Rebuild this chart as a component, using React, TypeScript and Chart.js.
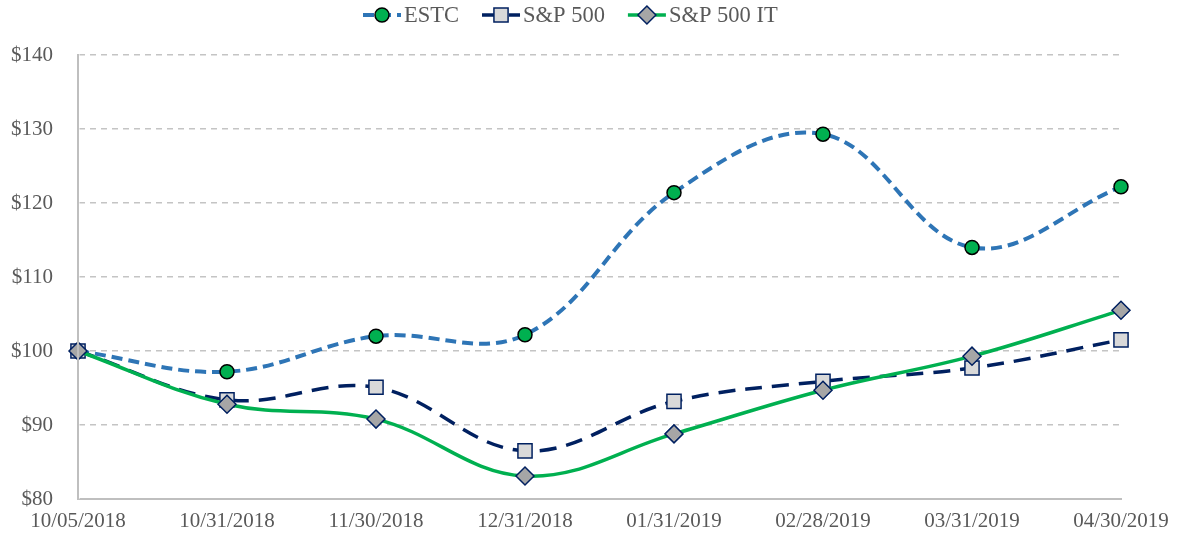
import React, { useEffect, useRef } from "react";
import { Chart, registerables } from "chart.js";

Chart.register(...registerables);

const categories = [
  "10/05/2018",
  "10/31/2018",
  "11/30/2018",
  "12/31/2018",
  "01/31/2019",
  "02/28/2019",
  "03/31/2019",
  "04/30/2019",
];
const estc = [100, 97.2, 102.0, 102.2, 121.4, 129.3, 114.0, 122.2];
const sp500 = [100, 93.4, 95.1, 86.5, 93.2, 95.9, 97.7, 101.5];
const sp500it = [100, 92.8, 90.8, 83.1, 88.8, 94.7, 99.3, 105.5];
const yTicks = [80, 90, 100, 110, 120, 130, 140];

const FONT = "'Liberation Serif', 'Times New Roman', serif";
const TEXT = "#595959";

type Marker = "circle" | "rect" | "rectRot";

function drawMarker(ctx: CanvasRenderingContext2D, kind: Marker, x: number, y: number, r: number, fill: string, stroke: string) {
  ctx.save();
  ctx.setLineDash([]);
  ctx.fillStyle = fill;
  ctx.strokeStyle = stroke;
  ctx.lineWidth = 1.5;
  ctx.beginPath();
  if (kind === "circle") {
    ctx.arc(x, y, r, 0, Math.PI * 2);
  } else if (kind === "rect") {
    const s = r * Math.SQRT1_2;
    ctx.rect(x - s, y - s, 2 * s, 2 * s);
  } else {
    ctx.moveTo(x, y - r);
    ctx.lineTo(x + r, y);
    ctx.lineTo(x, y + r);
    ctx.lineTo(x - r, y);
    ctx.closePath();
  }
  ctx.fill();
  ctx.stroke();
  ctx.restore();
}

const legendPlugin = {
  id: "customLegend",
  afterDraw(chart: any) {
    const ctx: CanvasRenderingContext2D = chart.ctx;
    const ds = chart.data.datasets;
    const order = [0, 1, 2];
    let x = 363;
    const y = 15;
    ctx.save();
    ctx.font = `22.5px ${FONT}`;
    ctx.textBaseline = "middle";
    ctx.textAlign = "left";
    for (const i of order) {
      const d = ds[i];
      const lineLen = 38;
      ctx.save();
      ctx.strokeStyle = d.borderColor;
      ctx.lineWidth = d.borderWidth;
      ctx.setLineDash(d.borderDash || []);
      ctx.beginPath();
      ctx.moveTo(x, y);
      ctx.lineTo(x + lineLen, y);
      ctx.stroke();
      ctx.restore();
      drawMarker(ctx, d.pointStyle, x + lineLen / 2, y, d.pointRadius, d.pointBackgroundColor, d.pointBorderColor);
      ctx.fillStyle = TEXT;
      const tx = x + lineLen + 3;
      ctx.fillText(d.label, tx, y + 1);
      x = tx + ctx.measureText(d.label).width + 23;
    }
    ctx.restore();
  },
};

export default function App() {
  const ref = useRef<HTMLCanvasElement | null>(null);
  useEffect(() => {
    if (!ref.current) return;
    const chart = new Chart(ref.current, {
      type: "line",
      data: {
        labels: categories,
        datasets: [
          {
            label: "ESTC",
            data: estc,
            borderColor: "#2E75B6",
            borderWidth: 4,
            borderDash: [11, 6],
            tension: 0.38,
            pointStyle: "circle",
            pointRadius: 7,
            pointBackgroundColor: "#00B050",
            pointBorderColor: "#000000",
            pointBorderWidth: 1.5,
            order: 3,
          },
          {
            label: "S&P 500",
            data: sp500,
            borderColor: "#002060",
            borderWidth: 3.5,
            borderDash: [17, 10],
            tension: 0.38,
            pointStyle: "rect",
            pointRadius: 10,
            pointBackgroundColor: "#D9D9D9",
            pointBorderColor: "#002060",
            pointBorderWidth: 1.5,
            order: 2,
          },
          {
            label: "S&P 500 IT",
            data: sp500it,
            borderColor: "#00B050",
            borderWidth: 3.5,
            tension: 0.38,
            pointStyle: "rectRot",
            pointRadius: 9,
            pointBackgroundColor: "#A6A6A6",
            pointBorderColor: "#002060",
            pointBorderWidth: 1.5,
            order: 1,
          },
        ] as any,
      },
      options: {
        animation: false,
        responsive: true,
        maintainAspectRatio: false,
        layout: { padding: { top: 55, right: 58, left: 0, bottom: 0 } },
        plugins: { legend: { display: false }, tooltip: { enabled: false } },
        scales: {
          x: {
            offset: false,
            grid: { display: false, drawTicks: false },
            border: { display: true, color: "#BFBFBF", width: 2 },
            ticks: {
              color: TEXT,
              font: { family: FONT, size: 21 },
              padding: 10,
              maxRotation: 0,
              autoSkip: false,
            },
            afterFit: (s: any) => {
              s.height = 42;
            },
          },
          y: {
            min: 80,
            max: 140,
            afterBuildTicks: (s: any) => {
              s.ticks = yTicks.map((v) => ({ value: v }));
            },
            grid: {
              display: true,
              drawTicks: false,
              color: "#C4C4C4",
              lineWidth: 1.6,
            } as any,
            border: { display: true, color: "#BFBFBF", width: 2, dash: [6, 5] } as any,
            ticks: {
              color: TEXT,
              font: { family: FONT, size: 21 },
              padding: 25,
              callback: (v: any) => "$" + v,
            },
            afterFit: (s: any) => {
              s.width = 78;
            },
          },
        },
      },
      plugins: [
        legendPlugin,
        {
          id: "solidYAxis",
          afterDraw(chart: any) {
            const ctx: CanvasRenderingContext2D = chart.ctx;
            const a = chart.chartArea;
            ctx.save();
            ctx.strokeStyle = "#BFBFBF";
            ctx.lineWidth = 2;
            ctx.setLineDash([]);
            ctx.beginPath();
            ctx.moveTo(a.left, a.top - 1);
            ctx.lineTo(a.left, a.bottom);
            ctx.stroke();
            ctx.restore();
          },
          beforeDatasetsDraw(chart: any) {
            const ctx: CanvasRenderingContext2D = chart.ctx;
            const a = chart.chartArea;
            ctx.save();
            ctx.fillStyle = "#FFFFFF";
            ctx.fillRect(a.left - 1.5, a.top - 2, 3, a.bottom - a.top + 2);
            ctx.strokeStyle = "#BFBFBF";
            ctx.lineWidth = 2;
            ctx.beginPath();
            ctx.moveTo(a.left, a.top - 1);
            ctx.lineTo(a.left, a.bottom);
            ctx.stroke();
            ctx.restore();
          },
        },
      ],
    } as any);
    return () => chart.destroy();
  }, []);
  return (
    <div style={{ position: "absolute", left: 0, top: 0, width: 1179, height: 541 }}>
      <canvas ref={ref} />
    </div>
  );
}
